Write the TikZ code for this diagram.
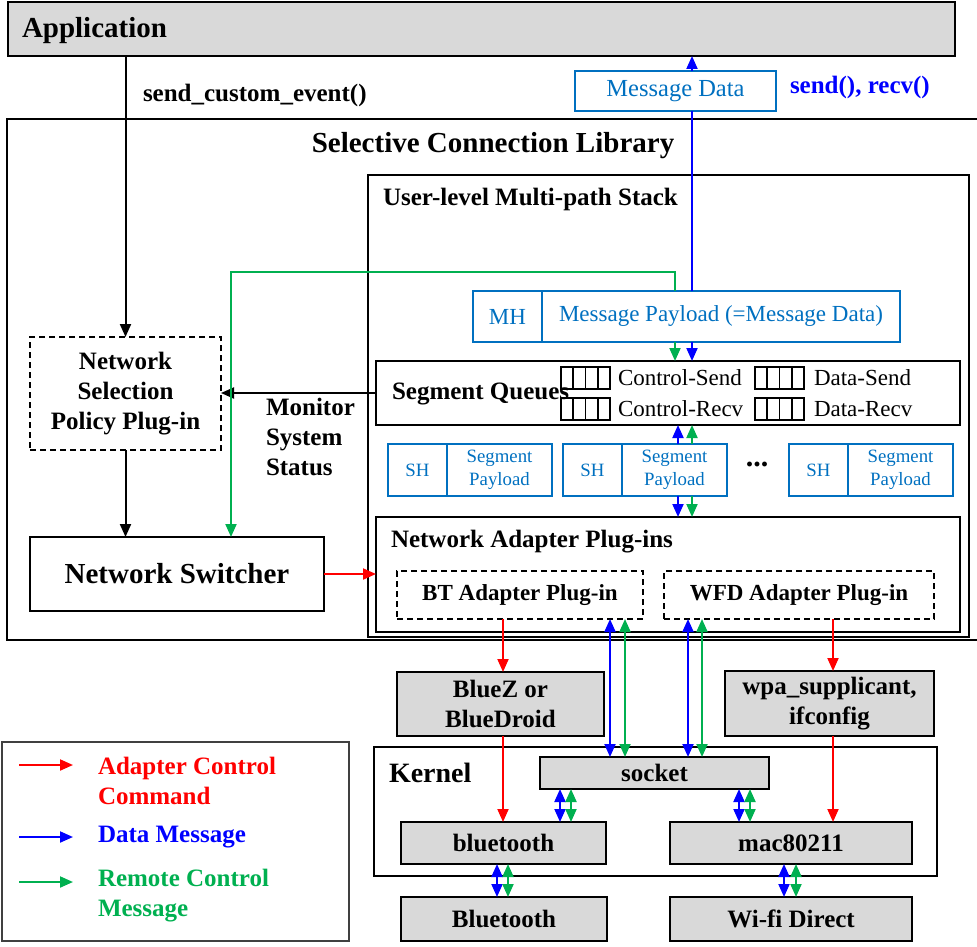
\documentclass[tikz,border=0pt]{standalone}
\usepackage{fontspec}
\setmainfont{Liberation Serif}
\usetikzlibrary{arrows.meta}
\definecolor{boxblue}{HTML}{0070C0}
\definecolor{dblue}{HTML}{0000FF}
\definecolor{dgreen}{HTML}{00B050}
\definecolor{dred}{HTML}{FF0000}
\definecolor{lgray}{HTML}{D9D9D9}
\begin{document}
\begin{tikzpicture}[x=1pt,y=-1pt,
  bx/.style={draw, line width=1.8pt, inner sep=0pt, outer sep=0pt, align=center},
  gbx/.style={bx, fill=lgray},
  bbx/.style={bx, draw=boxblue, text=boxblue, line width=1.6pt},
  dbx/.style={bx, dash pattern=on 6pt off 4pt},
  txt/.style={inner sep=0pt, outer sep=0pt},
  fB/.style={font=\fontsize{25}{30}\selectfont\bfseries},
  fBig/.style={font=\fontsize{29}{34}\selectfont\bfseries},
  fR/.style={font=\fontsize{23}{27}\selectfont},
  fS/.style={font=\fontsize{18.8}{23}\selectfont},
  conn/.style={line width=2pt},
  arr/.style={conn, -{Triangle[length=13pt,width=11pt]}},
  darr/.style={conn, {Triangle[length=13pt,width=11pt]}-{Triangle[length=13pt,width=11pt]}},
  cred/.style={draw=dred},
  cblue/.style={draw=dblue},
  cgreen/.style={draw=dgreen},
  qline/.style={line width=1.8pt}
]
\useasboundingbox (0,0) rectangle (977,947);

% ---------- Application ----------
\node[gbx, minimum width=947pt, minimum height=54pt] (app) at (481.5,29) {};
\node[txt, fBig, anchor=west] (apptxt) at (22,31) {Application};
\node[txt, fB, anchor=west] (sce) at (143,95) {send\_custom\_event()};
\node[bbx, font=\fontsize{24.5}{28}\selectfont, minimum width=201pt, minimum height=40pt] (msg) at (675.5,91) {Message Data};
\node[txt, fB, text=dblue, anchor=west] (sr) at (790,87) {send(), recv()};

% ---------- Selective Connection Library ----------
\node[bx, minimum width=975pt, minimum height=521pt] (lib) at (494.5,379.5) {};
\node[txt, fBig] (libtxt) at (493,146) {Selective Connection Library};

\node[dbx, fB, minimum width=191pt, minimum height=113pt] (nsp) at (125.5,393.5) {Network\\Selection\\Policy Plug-in};
\node[bx, fBig, minimum width=294pt, minimum height=74pt] (ns) at (177,574) {Network Switcher};
\node[txt, fB, anchor=west, align=left] (mon) at (266,437) {Monitor\\System\\Status};

% ---------- User-level Multi-path Stack ----------
\node[bx, minimum width=601pt, minimum height=462pt] (uls) at (668.5,406) {};
\node[txt, fB, anchor=west] (ulstxt) at (383,199) {User-level Multi-path Stack};

\node[bbx, fR, minimum width=69pt, minimum height=51pt] (mh) at (507.5,316.5) {MH};
\node[bbx, fR, minimum width=358pt, minimum height=51pt] (pay) at (721,316.5) {Message Payload (=Message Data)};

\node[bx, minimum width=584pt, minimum height=64pt] (sq) at (668,393) {};
\node[txt, fB, anchor=west] (sqtxt) at (392,394) {Segment Queues};
\foreach \qx in {561,755} \foreach \qy in {367,398} {
  \draw[qline] (\qx,\qy) rectangle ++(49,22);
  \foreach \k in {1,2,3} \draw[qline] (\qx+\k*12.25,\qy) -- ++(0,22);
}
\node[txt, fR, anchor=west] (cs) at (618,378) {Control-Send};
\node[txt, fR, anchor=west] (cr) at (618,409) {Control-Recv};
\node[txt, fR, anchor=west] (ds) at (814,378) {Data-Send};
\node[txt, fR, anchor=west] (dr) at (814,409) {Data-Recv};

\node[bbx, fS, minimum width=59pt, minimum height=52pt] (sh1) at (417.5,470) {SH};
\node[bbx, fS, minimum width=105pt, minimum height=52pt] (sp1) at (499.5,470) {Segment\\Payload};
\node[bbx, fS, minimum width=59pt, minimum height=52pt] (sh2) at (592.5,470) {SH};
\node[bbx, fS, minimum width=105pt, minimum height=52pt] (sp2) at (674.5,470) {Segment\\Payload};
\node[bbx, fS, minimum width=59pt, minimum height=52pt] (sh3) at (818.5,470) {SH};
\node[bbx, fS, minimum width=105pt, minimum height=52pt] (sp3) at (900.5,470) {Segment\\Payload};
\node[txt, font=\fontsize{30}{34}\selectfont\bfseries] (dots) at (757,464) {...};

\node[bx, minimum width=584pt, minimum height=115pt] (nap) at (668,574.5) {};
\node[txt, fB, anchor=west] (naptxt) at (391,542) {Network Adapter Plug-ins};
\node[dbx, font=\fontsize{23}{27}\selectfont\bfseries, minimum width=246pt, minimum height=48pt] (bt) at (520,595) {BT Adapter Plug-in};
\node[dbx, font=\fontsize{23}{27}\selectfont\bfseries, minimum width=270pt, minimum height=48pt] (wfd) at (799,595) {WFD Adapter Plug-in};

% ---------- lower part ----------
\node[gbx, fB, minimum width=207pt, minimum height=64pt] (bluez) at (500.5,704) {BlueZ or\\BlueDroid};
\node[gbx, fB, minimum width=209pt, minimum height=65pt] (wpa) at (829.5,703.5) {wpa\_supplicant,\\ifconfig};
\node[bx, minimum width=563pt, minimum height=129pt] (kern) at (655.5,811.5) {};
\node[txt, font=\fontsize{28}{32}\selectfont\bfseries, anchor=west] (kerntxt) at (389,773) {Kernel};
\node[gbx, fB, minimum width=229pt, minimum height=32pt] (sock) at (654.5,773) {socket};
\node[gbx, fB, minimum width=205pt, minimum height=42pt] (blt) at (503.5,843) {bluetooth};
\node[gbx, fB, minimum width=242pt, minimum height=42pt] (mac) at (791,843) {mac80211};
\node[gbx, fB, minimum width=206pt, minimum height=44pt] (BLT) at (504,919) {Bluetooth};
\node[gbx, fB, minimum width=242pt, minimum height=44pt] (wifi) at (791,919) {Wi-fi Direct};

% ---------- legend ----------
\node[draw=black!75, line width=1.2pt, inner sep=0pt, minimum width=347pt, minimum height=199pt] (leg) at (175.5,841.5) {};
\coordinate (la0) at (19,765); \coordinate (la1) at (73,765);
\coordinate (lb0) at (19,837); \coordinate (lb1) at (73,837);
\coordinate (lc0) at (19,882); \coordinate (lc1) at (73,882);
\draw[arr,cred] (la0) -- (la1);
\draw[arr,cblue] (lb0) -- (lb1);
\draw[arr,cgreen] (lc0) -- (lc1);
\node[txt, fB, text=dred, anchor=west, align=left] (lta) at (98,780.5) {Adapter Control\\Command};
\node[txt, fB, text=dblue, anchor=west] (ltb) at (98,837) {Data Message};
\node[txt, fB, text=dgreen, anchor=west, align=left] (ltc) at (98,896) {Remote Control\\Message};

% ---------- lane coordinates ----------
\coordinate (Lg) at (675,0);
\coordinate (Lb) at (692,0);
\coordinate (Lb2) at (678,0);
\coordinate (Lturn) at (231,272);
\coordinate (Lr1) at (503,0);
\coordinate (Lr2) at (833,0);
\coordinate (Lbtb) at (610,0);  \coordinate (Lbtg) at (625,0);
\coordinate (Lwfb) at (688,0);  \coordinate (Lwfg) at (702,0);
\coordinate (Ls1b) at (560,0);  \coordinate (Ls1g) at (571,0);
\coordinate (Ls2b) at (739,0);  \coordinate (Ls2g) at (750,0);
\coordinate (Lk1b) at (497,0);  \coordinate (Lk1g) at (508,0);
\coordinate (Lk2b) at (784,0);  \coordinate (Lk2g) at (796,0);

% ---------- black connectors ----------
\draw[arr] (app.south -| nsp.north) -- (nsp.north);
\draw[arr] (nsp.south) -- (ns.north -| nsp.south);
\draw[arr] (sq.west) -- (sq.west -| nsp.east);

% ---------- red connectors ----------
\draw[arr,cred] (ns.east) -- (ns.east -| nap.west);
\draw[arr,cred] (bt.south -| Lr1) -- (bluez.north -| Lr1);
\draw[arr,cred] (bluez.south -| Lr1) -- (blt.north -| Lr1);
\draw[arr,cred] (wfd.south -| Lr2) -- (wpa.north -| Lr2);
\draw[arr,cred] (wpa.south -| Lr2) -- (mac.north -| Lr2);

% ---------- green / blue connectors ----------
\draw[arr,cgreen] (pay.north -| Lg) |- (Lturn) -- (Lturn |- ns.north);
\draw[conn,cblue] (pay.north -| Lb) -- (msg.south -| Lb);
\draw[arr,cblue] (msg.north -| Lb) -- (app.south -| Lb);
\draw[arr,cgreen] (pay.south -| Lg) -- (sq.north -| Lg);
\draw[arr,cblue] (pay.south -| Lb) -- (sq.north -| Lb);
\draw[arr,cblue] (sp2.north -| Lb2) -- (sq.south -| Lb2);
\draw[arr,cgreen] (sp2.north -| Lb) -- (sq.south -| Lb);
\draw[arr,cblue] (sp2.south -| Lb2) -- (nap.north -| Lb2);
\draw[arr,cgreen] (sp2.south -| Lb) -- (nap.north -| Lb);

\draw[darr,cblue] (bt.south -| Lbtb) -- (sock.north -| Lbtb);
\draw[darr,cgreen] (bt.south -| Lbtg) -- (sock.north -| Lbtg);
\draw[darr,cblue] (wfd.south -| Lwfb) -- (sock.north -| Lwfb);
\draw[darr,cgreen] (wfd.south -| Lwfg) -- (sock.north -| Lwfg);
\draw[darr,cblue] (sock.south -| Ls1b) -- (blt.north -| Ls1b);
\draw[darr,cgreen] (sock.south -| Ls1g) -- (blt.north -| Ls1g);
\draw[darr,cblue] (sock.south -| Ls2b) -- (mac.north -| Ls2b);
\draw[darr,cgreen] (sock.south -| Ls2g) -- (mac.north -| Ls2g);
\draw[darr,cblue] (blt.south -| Lk1b) -- (BLT.north -| Lk1b);
\draw[darr,cgreen] (blt.south -| Lk1g) -- (BLT.north -| Lk1g);
\draw[darr,cblue] (mac.south -| Lk2b) -- (wifi.north -| Lk2b);
\draw[darr,cgreen] (mac.south -| Lk2g) -- (wifi.north -| Lk2g);
\end{tikzpicture}
\end{document}
